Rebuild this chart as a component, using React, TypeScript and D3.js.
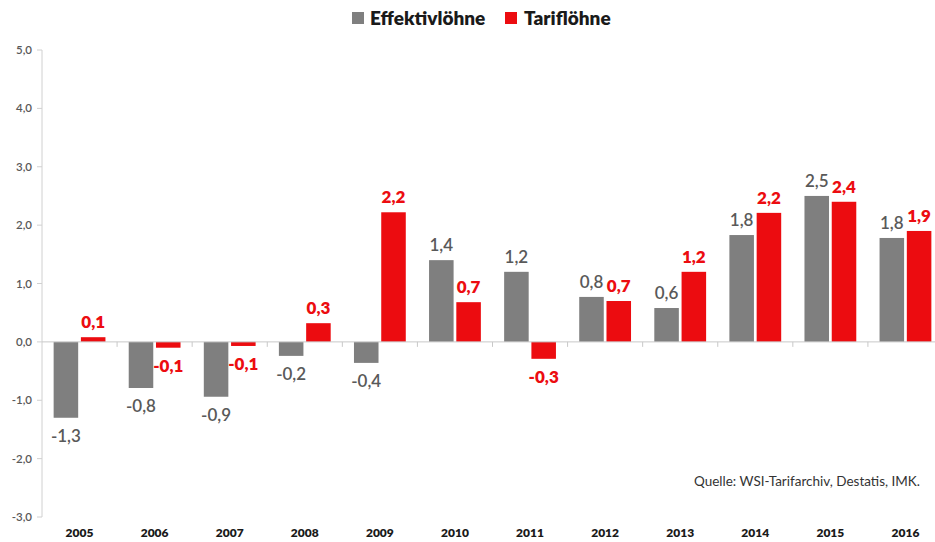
import React from "react";
import * as d3 from "d3";

const years = ["2005","2006","2007","2008","2009","2010","2011","2012","2013","2014","2015","2016"];
const effektiv = [-1.3, -0.79, -0.94, -0.24, -0.36, 1.4, 1.2, 0.77, 0.58, 1.83, 2.5, 1.78];
const tarif = [0.08, -0.1, -0.07, 0.32, 2.22, 0.68, -0.29, 0.7, 1.2, 2.21, 2.4, 1.9];
const effektivLabels = ["-1,3","-0,8","-0,9","-0,2","-0,4","1,4","1,2","0,8","0,6","1,8","2,5","1,8"];
const tarifLabels = ["0,1","-0,1","-0,1","0,3","2,2","0,7","-0,3","0,7","1,2","2,2","2,4","1,9"];
const yTicks = [-3, -2, -1, 0, 1, 2, 3, 4, 5];
const seriesNames = ["Effektivlöhne", "Tariflöhne"];
const source = "Quelle: WSI-Tarifarchiv, Destatis, IMK.";

const W = 935, H = 542;
const GRAY = "#7f7f7f", RED = "#ec0c10";
const FONT = "Lato, 'Open Sans', sans-serif";

export default function App() {
  const left = 42, right = 943, top = 50, bottom = 517;
  const y = d3.scaleLinear().domain([-3, 5]).range([bottom, top]);
  const x0 = d3.scaleBand().domain(years).range([left, right]).paddingInner(0.31).paddingOuter(0.155);
  const x1 = d3.scaleBand().domain(seriesNames).range([0, x0.bandwidth()]).paddingInner(0.1);
  const series = [
    { name: seriesNames[0], values: effektiv, labels: effektivLabels, color: GRAY, labelColor: "#595959", weight: 600 },
    { name: seriesNames[1], values: tarif, labels: tarifLabels, color: RED, labelColor: RED, weight: 800 },
  ];
  const fmt = (v: number) => d3.format(".1f")(v).replace(".", ",").replace("−", "-");
  const step = x0.step();
  return (
    <svg width={W} height={H} style={{ position: "absolute", left: 0, top: 0, background: "#fff" }} fontFamily={FONT}>
      {/* legend */}
      <g>
        <rect x={352} y={12} width={12} height={12} fill={GRAY} />
        <text x={370} y={25} fontSize={19} fontWeight={800} fill="#1a1a1a">{seriesNames[0]}</text>
        <rect x={505} y={12} width={12} height={12} fill={RED} />
        <text x={524} y={25} fontSize={19} fontWeight={800} fill="#1a1a1a">{seriesNames[1]}</text>
      </g>
      {/* y axis */}
      <line x1={left} x2={left} y1={y(5)} y2={y(-3)} stroke="#d0d0d0" />
      {yTicks.map((t) => (
        <g key={t}>
          <line x1={left - 5} x2={left} y1={y(t)} y2={y(t)} stroke="#d0d0d0" />
          <text x={left - 10} y={y(t) + 4} textAnchor="end" fontSize={11.5} fontWeight={600} fill="#595959">{fmt(t)}</text>
        </g>
      ))}
      {/* bars */}
      {series.map((s) => (
        <g key={s.name}>
          {years.map((yr, i) => {
            const v = s.values[i];
            const bx = (x0(yr) as number) + (x1(s.name) as number);
            return (
              <rect key={yr} x={bx} width={x1.bandwidth()} y={v >= 0 ? y(v) : y(0)} height={Math.abs(y(v) - y(0))} fill={s.color} />
            );
          })}
        </g>
      ))}
      {/* zero axis */}
      <line x1={left} x2={right} y1={y(0)} y2={y(0)} stroke="#c8c8c8" />
      {years.map((yr, i) => (
        <line key={yr} x1={left + step * (i + 1)} x2={left + step * (i + 1)} y1={y(0)} y2={y(0) + 5} stroke="#c8c8c8" />
      ))}
      {/* labels */}
      {series.map((s) => (
        <g key={s.name + "l"}>
          {years.map((yr, i) => {
            const v = s.values[i];
            const cx = (x0(yr) as number) + (x1(s.name) as number) + x1.bandwidth() / 2;
            const ly = v >= 0 ? y(v) - 9 : y(v) + 24;
            return (
              <text key={yr} x={cx} y={ly} textAnchor="middle" fontSize={17} fontWeight={s.weight} fill={s.labelColor}>{s.labels[i]}</text>
            );
          })}
        </g>
      ))}
      {/* years */}
      {years.map((yr) => (
        <text key={yr} x={(x0(yr) as number) + x0.bandwidth() / 2} y={537} textAnchor="middle" fontSize={12} fontWeight={800} fill="#1a1a1a">{yr}</text>
      ))}
      <text x={920} y={486} textAnchor="end" fontSize={13.5} fill="#333">{source}</text>
    </svg>
  );
}
